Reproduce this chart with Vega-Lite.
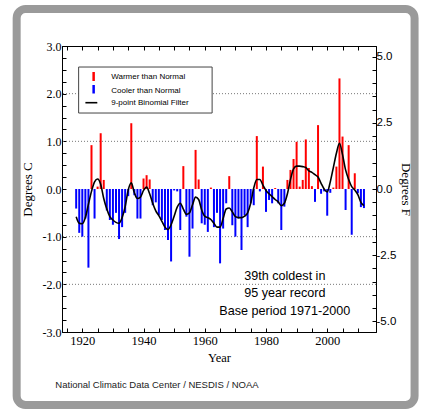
{
  "$schema": "https://vega.github.io/schema/vega-lite/v6.json",
  "width": 314,
  "height": 286,
  "autosize": "none",
  "padding": {"left": 62, "top": 46, "right": 51, "bottom": 77},
  "background": "white",
  "config": {
    "view": {"stroke": "black", "strokeWidth": 1},
    "axis": {"tickColor": "black", "domainColor": "black", "labelColor": "black", "titleColor": "black", "grid": false}
  },
  "datasets": {
    "temps": [
      {"year": 1918, "anom": -0.41, "smooth": -0.58},
      {"year": 1919, "anom": -0.92, "smooth": -0.72},
      {"year": 1920, "anom": -1.0, "smooth": -0.73},
      {"year": 1921, "anom": -0.62, "smooth": -0.6},
      {"year": 1922, "anom": -1.65, "smooth": -0.32},
      {"year": 1923, "anom": 0.92, "smooth": -0.05},
      {"year": 1924, "anom": -0.62, "smooth": 0.15},
      {"year": 1925, "anom": 0.05, "smooth": 0.21},
      {"year": 1926, "anom": 1.17, "smooth": 0.1},
      {"year": 1927, "anom": 0.19, "smooth": -0.2},
      {"year": 1928, "anom": -0.45, "smooth": -0.42},
      {"year": 1929, "anom": -0.65, "smooth": -0.58},
      {"year": 1930, "anom": -0.75, "smooth": -0.65},
      {"year": 1931, "anom": -0.5, "smooth": -0.7},
      {"year": 1932, "anom": -1.05, "smooth": -0.72},
      {"year": 1933, "anom": -0.8, "smooth": -0.6},
      {"year": 1934, "anom": -0.5, "smooth": -0.37},
      {"year": 1935, "anom": -0.15, "smooth": -0.02},
      {"year": 1936, "anom": 1.38, "smooth": 0.13},
      {"year": 1937, "anom": -0.13, "smooth": -0.08},
      {"year": 1938, "anom": -0.62, "smooth": -0.2},
      {"year": 1939, "anom": -0.62, "smooth": -0.17},
      {"year": 1940, "anom": 0.22, "smooth": -0.03},
      {"year": 1941, "anom": 0.29, "smooth": 0.04},
      {"year": 1942, "anom": 0.2, "smooth": -0.1},
      {"year": 1943, "anom": -0.34, "smooth": -0.3},
      {"year": 1944, "anom": -0.28, "smooth": -0.46},
      {"year": 1945, "anom": -0.55, "smooth": -0.56},
      {"year": 1946, "anom": -0.65, "smooth": -0.68},
      {"year": 1947, "anom": -0.86, "smooth": -0.8},
      {"year": 1948, "anom": -1.07, "smooth": -0.85},
      {"year": 1949, "anom": -1.52, "smooth": -0.75},
      {"year": 1950, "anom": -0.03, "smooth": -0.57},
      {"year": 1951, "anom": -0.05, "smooth": -0.38},
      {"year": 1952, "anom": -0.86, "smooth": -0.3},
      {"year": 1953, "anom": 0.48, "smooth": -0.42},
      {"year": 1954, "anom": -0.58, "smooth": -0.53},
      {"year": 1955, "anom": -1.42, "smooth": -0.5},
      {"year": 1956, "anom": -0.83, "smooth": -0.33},
      {"year": 1957, "anom": 0.82, "smooth": -0.17},
      {"year": 1958, "anom": 0.2, "smooth": -0.22},
      {"year": 1959, "anom": -0.72, "smooth": -0.44},
      {"year": 1960, "anom": -0.75, "smooth": -0.57},
      {"year": 1961, "anom": -0.9, "smooth": -0.6},
      {"year": 1962, "anom": 0.03, "smooth": -0.64},
      {"year": 1963, "anom": -0.8, "smooth": -0.72},
      {"year": 1964, "anom": -0.5, "smooth": -0.8},
      {"year": 1965, "anom": -1.56, "smooth": -0.8},
      {"year": 1966, "anom": -0.83, "smooth": -0.62},
      {"year": 1967, "anom": -0.3, "smooth": -0.42},
      {"year": 1968, "anom": 0.27, "smooth": -0.4},
      {"year": 1969, "anom": -0.76, "smooth": -0.48},
      {"year": 1970, "anom": -1.0, "smooth": -0.58},
      {"year": 1971, "anom": -0.62, "smooth": -0.6},
      {"year": 1972, "anom": -1.28, "smooth": -0.6},
      {"year": 1973, "anom": -0.55, "smooth": -0.57},
      {"year": 1974, "anom": -0.8, "smooth": -0.5},
      {"year": 1975, "anom": -0.3, "smooth": -0.3},
      {"year": 1976, "anom": -0.34, "smooth": 0.02},
      {"year": 1977, "anom": 1.11, "smooth": 0.2},
      {"year": 1978, "anom": -0.05, "smooth": 0.2},
      {"year": 1979, "anom": 0.47, "smooth": 0.08},
      {"year": 1980, "anom": -0.48, "smooth": -0.03},
      {"year": 1981, "anom": -0.23, "smooth": -0.1},
      {"year": 1982, "anom": -0.3, "smooth": -0.16},
      {"year": 1983, "anom": 0.02, "smooth": -0.22},
      {"year": 1984, "anom": -0.3, "smooth": -0.27},
      {"year": 1985, "anom": -0.86, "smooth": -0.35},
      {"year": 1986, "anom": -0.37, "smooth": -0.3},
      {"year": 1987, "anom": 0.19, "smooth": -0.1},
      {"year": 1988, "anom": 0.4, "smooth": 0.2},
      {"year": 1989, "anom": 0.63, "smooth": 0.42},
      {"year": 1990, "anom": 0.99, "smooth": 0.48},
      {"year": 1991, "anom": 0.05, "smooth": 0.48},
      {"year": 1992, "anom": 0.19, "smooth": 0.47},
      {"year": 1993, "anom": 1.04, "smooth": 0.45},
      {"year": 1994, "anom": 0.44, "smooth": 0.38},
      {"year": 1995, "anom": 0.06, "smooth": 0.35},
      {"year": 1996, "anom": -0.27, "smooth": 0.3},
      {"year": 1997, "anom": 1.34, "smooth": 0.25},
      {"year": 1998, "anom": -0.1, "smooth": 0.12},
      {"year": 1999, "anom": -0.05, "smooth": 0.0},
      {"year": 2000, "anom": -0.56, "smooth": -0.06},
      {"year": 2001, "anom": -0.08, "smooth": 0.15},
      {"year": 2002, "anom": 0.03, "smooth": 0.45},
      {"year": 2003, "anom": 0.47, "smooth": 0.75},
      {"year": 2004, "anom": 2.32, "smooth": 0.96},
      {"year": 2005, "anom": 1.1, "smooth": 0.72},
      {"year": 2006, "anom": -0.44, "smooth": 0.4},
      {"year": 2007, "anom": 0.92, "smooth": 0.2},
      {"year": 2008, "anom": -0.96, "smooth": 0.05},
      {"year": 2009, "anom": 0.33, "smooth": -0.02},
      {"year": 2010, "anom": -0.09, "smooth": -0.12},
      {"year": 2011, "anom": -0.38, "smooth": -0.28},
      {"year": 2012, "anom": -0.4, "smooth": -0.35}
    ]
  },
  "layer": [
    {
      "data": {"values": [{}]},
      "mark": {"type": "rect", "filled": false, "stroke": "#9a9a9a", "strokeWidth": 8, "cornerRadius": 9, "clip": false},
      "encoding": {
        "x": {"datum": 1898.556, "type": "quantitative", "axis": null},
        "x2": {"datum": 2028.531},
        "y": {"datum": 3.7762, "type": "quantitative", "axis": null},
        "y2": {"datum": -4.5315}
      }
    },
    {
      "data": {"values": [{"g": -2}, {"g": -1}, {"g": 1}, {"g": 2}]},
      "mark": {"type": "rule", "strokeDash": [1, 2], "color": "#777777", "strokeWidth": 1},
      "encoding": {"y": {"field": "g", "type": "quantitative", "axis": null}}
    },
    {
      "data": {"name": "temps"},
      "mark": {"type": "bar", "width": 2, "orient": "vertical"},
      "encoding": {
        "x": {
          "field": "year", "type": "quantitative",
          "scale": {"domain": [1915, 2014.3], "nice": false, "zero": false},
          "axis": {
            "orient": "bottom",
            "values": [1915, 1920, 1925, 1930, 1935, 1940, 1945, 1950, 1955, 1960, 1965, 1970, 1975, 1980, 1985, 1990, 1995, 2000, 2005, 2010],
            "format": "d",
            "labelExpr": "datum.value % 20 === 0 ? datum.label : ''",
            "tickSize": -4,
            "labelPadding": 6,
            "labelFont": "Liberation Serif", "labelFontSize": 12.5,
            "title": "Year", "titleFont": "Liberation Serif", "titleFontSize": 12.5, "titleFontWeight": "normal", "titlePadding": 5
          }
        },
        "y": {
          "field": "anom", "type": "quantitative",
          "scale": {"domain": [-3, 3], "nice": false},
          "axis": {
            "orient": "left",
            "values": [-3, -2.75, -2.5, -2.25, -2, -1.75, -1.5, -1.25, -1, -0.75, -0.5, -0.25, 0, 0.25, 0.5, 0.75, 1, 1.25, 1.5, 1.75, 2, 2.25, 2.5, 2.75, 3],
            "labelExpr": "datum.value % 1 === 0 ? replace(format(datum.value, '.1f'), '\u2212', '-') : ''",
            "tickSize": -4,
            "labelPadding": 5,
            "labelFont": "Liberation Serif", "labelFontSize": 12,
            "title": "Degrees C", "titleFont": "Liberation Serif", "titleFontSize": 13, "titleFontWeight": "normal", "titlePadding": 8
          }
        },
        "y2": {"datum": 0},
        "color": {"condition": {"test": "datum.anom > 0", "value": "#ff0000"}, "value": "#0000ff"}
      }
    },
    {
      "data": {"name": "temps"},
      "mark": {"type": "line", "color": "black", "strokeWidth": 1.6, "interpolate": "monotone"},
      "encoding": {
        "x": {
          "field": "year", "type": "quantitative",
          "axis": {
            "orient": "top",
            "values": [1915, 1920, 1925, 1930, 1935, 1940, 1945, 1950, 1955, 1960, 1965, 1970, 1975, 1980, 1985, 1990, 1995, 2000, 2005, 2010],
            "labels": false, "tickSize": -4, "title": null
          }
        },
        "y": {
          "field": "smooth", "type": "quantitative",
          "axis": {
            "orient": "right",
            "values": [-2.77778, -2.5, -2.22222, -1.94444, -1.66667, -1.38889, -1.11111, -0.83333, -0.55556, -0.27778, 0, 0.27778, 0.55556, 0.83333, 1.11111, 1.38889, 1.66667, 1.94444, 2.22222, 2.5, 2.77778],
            "labelExpr": "abs(round(datum.value * 3.6) % 5) < 0.01 ? replace(format(datum.value * 1.8, '.1f'), '\u2212', '-') : ''",
            "tickSize": -4,
            "labelPadding": 4,
            "labelFont": "Liberation Sans", "labelFontSize": 11.5,
            "title": "Degrees F", "titleFont": "Liberation Serif", "titleFontSize": 13, "titleFontWeight": "normal", "titlePadding": 3
          }
        }
      }
    },
    {
      "data": {"values": [{}]},
      "mark": {"type": "rect", "fill": "white", "stroke": "#444444", "strokeWidth": 1},
      "encoding": {
        "x": {"datum": 1918.8, "type": "quantitative", "axis": null},
        "x2": {"datum": 1962.4},
        "y": {"datum": 2.559, "type": "quantitative", "axis": null},
        "y2": {"datum": 1.594}
      }
    },
    {
      "data": {"values": [{}]},
      "mark": {"type": "rule", "color": "#ff0000", "strokeWidth": 2.5},
      "encoding": {
        "x": {"datum": 1923.7, "type": "quantitative", "axis": null},
        "y": {"datum": 2.4545, "type": "quantitative", "axis": null},
        "y2": {"datum": 2.2657}
      }
    },
    {
      "data": {"values": [{}]},
      "mark": {"type": "rule", "color": "#0000ff", "strokeWidth": 2.5},
      "encoding": {
        "x": {"datum": 1923.7, "type": "quantitative", "axis": null},
        "y": {"datum": 2.1818, "type": "quantitative", "axis": null},
        "y2": {"datum": 2.0035}
      }
    },
    {
      "data": {"values": [{}]},
      "mark": {"type": "rule", "color": "black", "strokeWidth": 1.6},
      "encoding": {
        "x": {"datum": 1921.01, "type": "quantitative", "axis": null},
        "x2": {"datum": 1924.9},
        "y": {"datum": 1.8105, "type": "quantitative", "axis": null}
      }
    },
    {
      "data": {"values": [{}]},
      "mark": {"type": "text", "align": "left", "baseline": "middle", "font": "Liberation Sans", "fontSize": 8, "color": "black"},
      "encoding": {
        "x": {"datum": 1929.45, "type": "quantitative", "axis": null},
        "y": {"datum": 2.3434, "type": "quantitative", "axis": null},
        "text": {"value": "Warmer than Normal"}
      }
    },
    {
      "data": {"values": [{}]},
      "mark": {"type": "text", "align": "left", "baseline": "middle", "font": "Liberation Sans", "fontSize": 8, "color": "black"},
      "encoding": {
        "x": {"datum": 1929.45, "type": "quantitative", "axis": null},
        "y": {"datum": 2.0623, "type": "quantitative", "axis": null},
        "text": {"value": "Cooler than Normal"}
      }
    },
    {
      "data": {"values": [{}]},
      "mark": {"type": "text", "align": "left", "baseline": "middle", "font": "Liberation Sans", "fontSize": 8, "color": "black"},
      "encoding": {
        "x": {"datum": 1929.45, "type": "quantitative", "axis": null},
        "y": {"datum": 1.8105, "type": "quantitative", "axis": null},
        "text": {"value": "9-point Binomial Filter"}
      }
    },
    {
      "data": {"values": [{}]},
      "mark": {"type": "text", "align": "center", "baseline": "alphabetic", "font": "Liberation Sans", "fontSize": 12.6, "lineHeight": 17.5, "color": "black"},
      "encoding": {
        "x": {"datum": 1986.15, "type": "quantitative", "axis": null},
        "y": {"datum": -1.899, "type": "quantitative", "axis": null},
        "text": {"value": ["39th coldest in", "95 year record", "Base period 1971-2000"]}
      }
    },
    {
      "data": {"values": [{}]},
      "mark": {"type": "text", "align": "left", "baseline": "middle", "font": "Liberation Sans", "fontSize": 9.5, "color": "#222222", "clip": false},
      "encoding": {
        "x": {"datum": 1911.2, "type": "quantitative", "axis": null},
        "y": {"datum": -4.112, "type": "quantitative", "axis": null},
        "text": {"value": "National Climatic Data Center / NESDIS / NOAA"}
      }
    }
  ],
  "resolve": {"axis": {"x": "independent", "y": "independent"}}
}
